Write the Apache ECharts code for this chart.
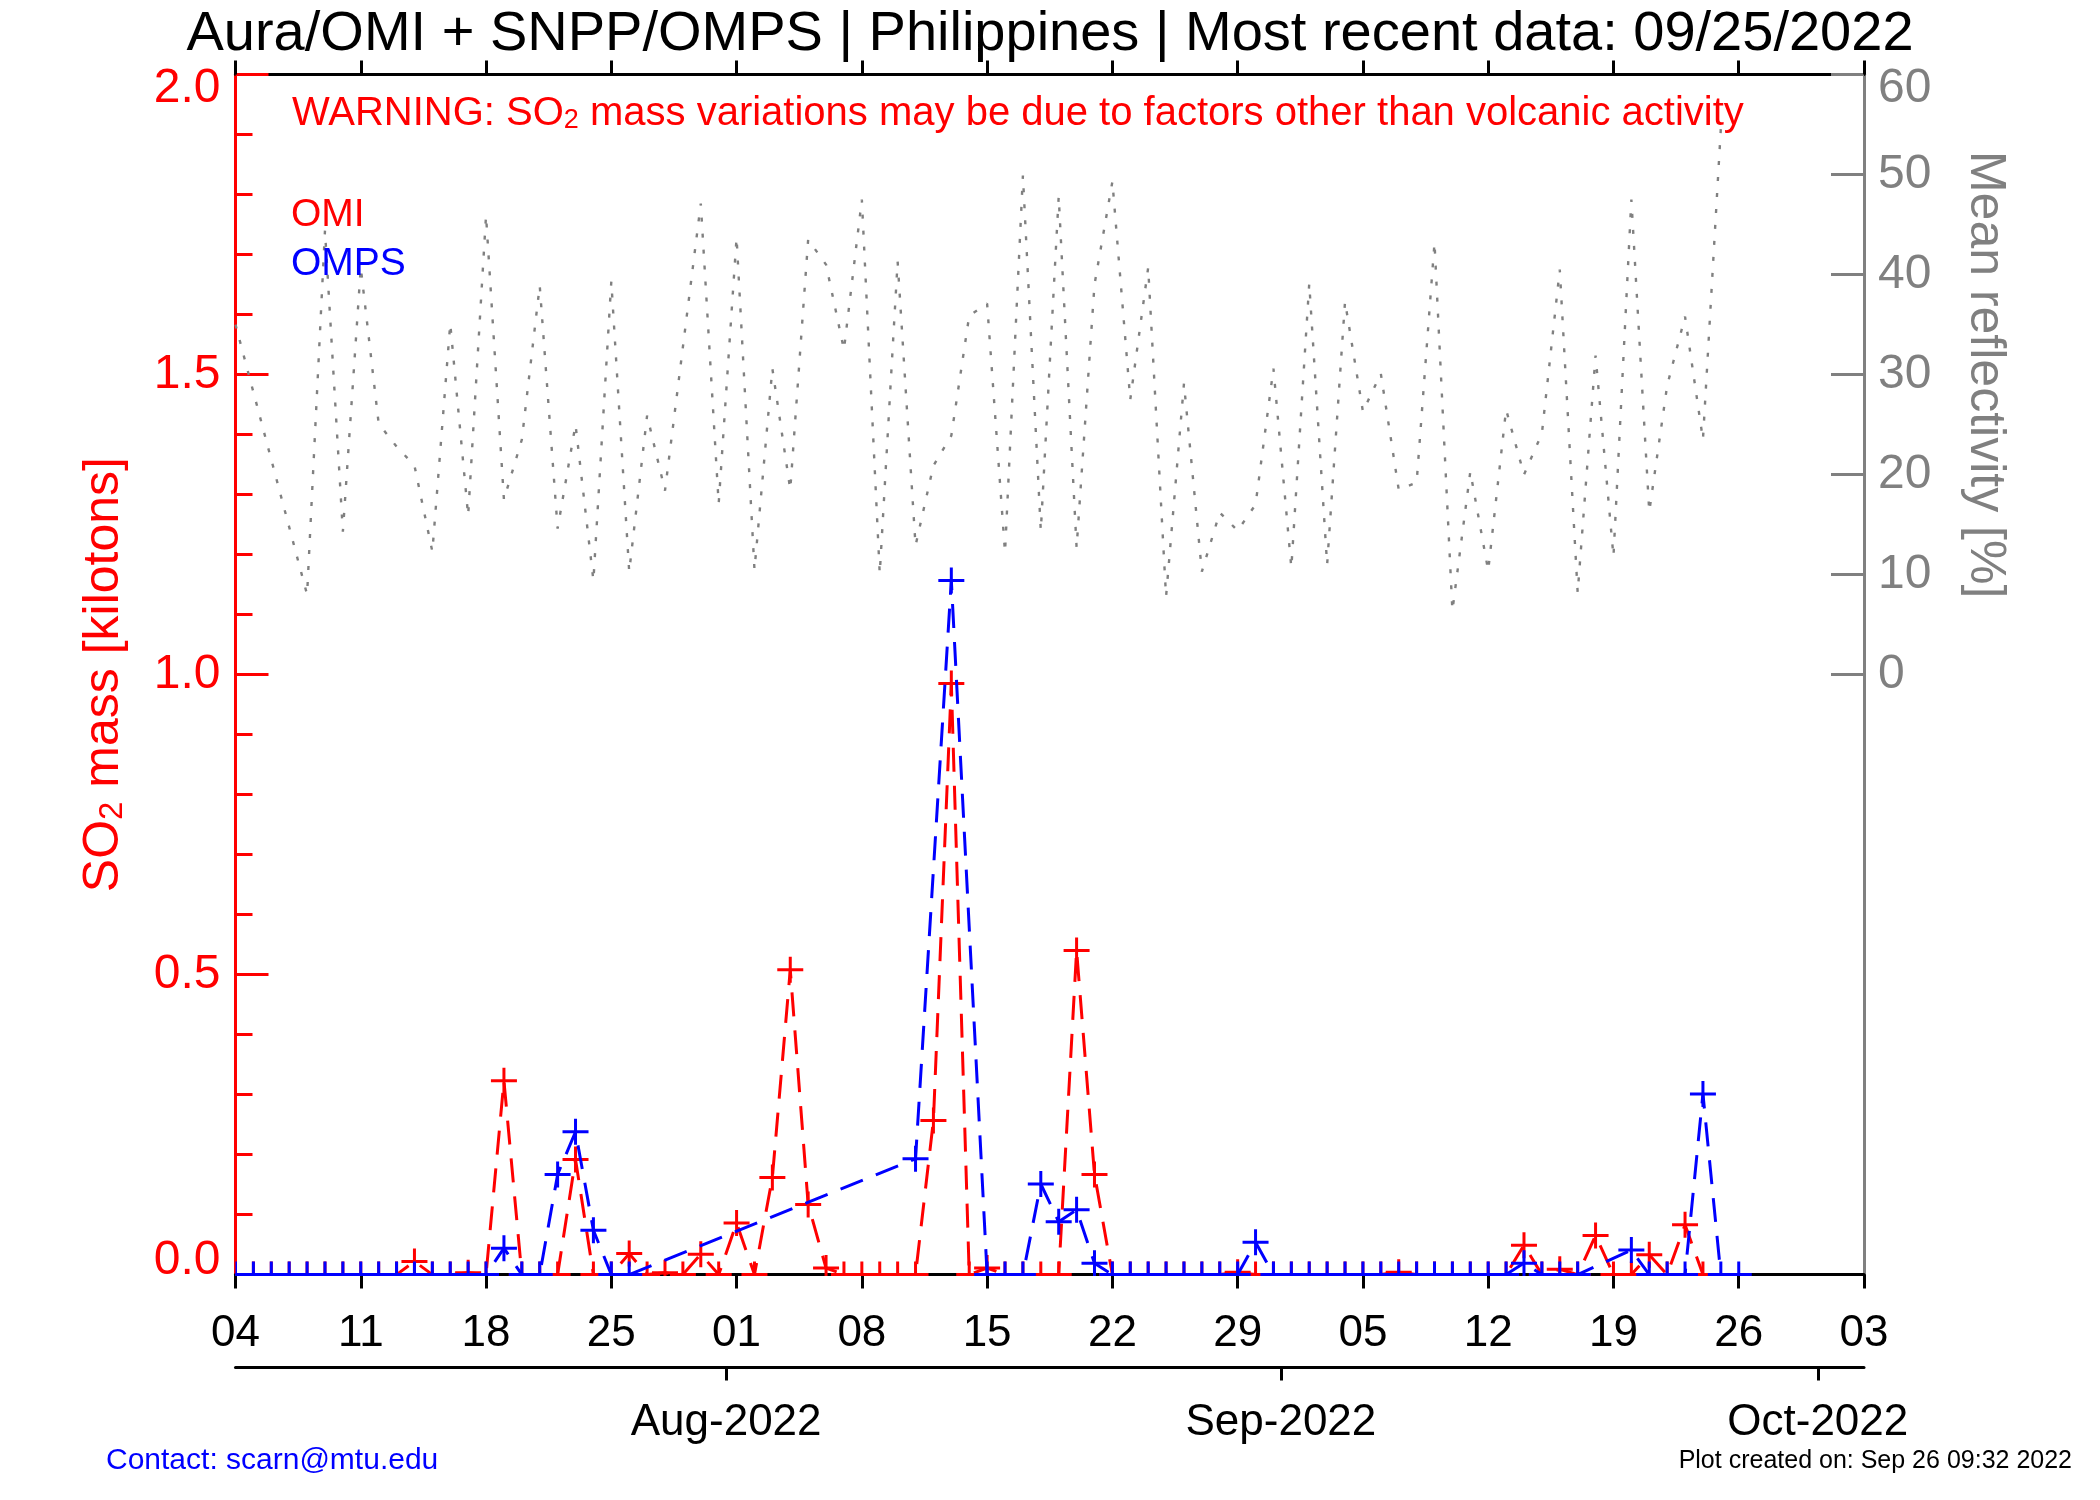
<!DOCTYPE html>
<html>
<head>
<meta charset="utf-8">
<title>Aura/OMI + SNPP/OMPS | Philippines</title>
<script src="https://cdn.jsdelivr.net/npm/echarts@6/dist/echarts.min.js"></script>
<style>
  html, body { margin: 0; padding: 0; background: #ffffff; }
  #chart { width: 2100px; height: 1500px; }
</style>
</head>
<body>
<div id="chart"></div>
<script>
// One entry per day, Jul 04 .. Sep 26 2022. null = no retrieval that day (the line just joins across).
const days = [
  '2022-07-04', '2022-07-05', '2022-07-06', '2022-07-07', '2022-07-08', '2022-07-09', '2022-07-10',
  '2022-07-11', '2022-07-12', '2022-07-13', '2022-07-14', '2022-07-15', '2022-07-16', '2022-07-17',
  '2022-07-18', '2022-07-19', '2022-07-20', '2022-07-21', '2022-07-22', '2022-07-23', '2022-07-24',
  '2022-07-25', '2022-07-26', '2022-07-27', '2022-07-28', '2022-07-29', '2022-07-30', '2022-07-31',
  '2022-08-01', '2022-08-02', '2022-08-03', '2022-08-04', '2022-08-05', '2022-08-06', '2022-08-07',
  '2022-08-08', '2022-08-09', '2022-08-10', '2022-08-11', '2022-08-12', '2022-08-13', '2022-08-14',
  '2022-08-15', '2022-08-16', '2022-08-17', '2022-08-18', '2022-08-19', '2022-08-20', '2022-08-21',
  '2022-08-22', '2022-08-23', '2022-08-24', '2022-08-25', '2022-08-26', '2022-08-27', '2022-08-28',
  '2022-08-29', '2022-08-30', '2022-08-31', '2022-09-01', '2022-09-02', '2022-09-03', '2022-09-04',
  '2022-09-05', '2022-09-06', '2022-09-07', '2022-09-08', '2022-09-09', '2022-09-10', '2022-09-11',
  '2022-09-12', '2022-09-13', '2022-09-14', '2022-09-15', '2022-09-16', '2022-09-17', '2022-09-18',
  '2022-09-19', '2022-09-20', '2022-09-21', '2022-09-22', '2022-09-23', '2022-09-24', '2022-09-25',
  '2022-09-26',
];

// SO2 mass, kilotons
const omi = [
  0, 0, 0, 0, 0, 0, 0,
  0, 0, 0, 0.022, 0, 0, 0.003,
  0, 0.323, 0, 0, 0, 0.192, 0,
  0, 0.035, 0, 0.003, 0, 0.034, 0,
  0.086, 0, 0.162, 0.508, 0.117, 0.011, 0,
  0, 0, 0, 0, 0.257, 0.985, 0,
  0.011, 0, 0, 0, 0, 0.540, 0.167,
  0, 0, 0, 0, 0, 0, 0,
  0.004, 0, 0, 0, 0, 0, 0,
  0, 0, 0.004, 0, 0, 0, 0,
  0, 0, 0.049, 0, 0.009, 0, 0.065,
  0, 0, 0.033, 0, 0.083, 0, null,
  null,
];
const omps = [
  0, 0, 0, 0, 0, 0, 0,
  0, 0, 0, 0, 0, 0, 0,
  0, 0.044, 0, 0, 0.167, 0.238, 0.074,
  0, 0, null, null, null, null, null,
  null, null, null, null, null, null, null,
  null, null, null, 0.193, null, 1.157, null,
  0, 0, 0, 0.151, 0.088, 0.108, 0.019,
  0, 0, 0, 0, 0, 0, 0,
  0, 0.054, 0, 0, 0, 0, 0,
  0, 0, 0, 0, 0, 0, 0,
  0, 0, 0.019, 0, 0, 0, null,
  null, 0.041, 0, 0, 0, 0.301, 0,
  0,
];
// mean cloud reflectivity, %
const reflectivity = [
  35.0, null, null, null, 8.0, 44.4, 14.3,
  40.7, 25.1, 22.8, 20.9, 12.3, 35.1, 15.9,
  45.9, 17.5, 23.5, 38.9, 14.6, 25.0, 9.4,
  39.3, 10.3, 25.9, 18.4, null, 47.1, 17.1,
  43.7, 10.5, 30.6, 18.5, 43.5, 41.0, 32.5,
  47.5, 10.1, 41.3, 12.9, 20.9, 23.9, 35.9,
  37.1, 12.2, 49.9, 14.4, 47.8, 12.7, 39.0,
  49.3, 27.5, 40.7, 7.8, 29.1, 10.3, 16.2,
  14.4, 17.0, 30.6, 10.7, 39.1, 11.0, 37.3,
  26.3, 30.1, 18.5, 19.2, 43.2, 6.4, 20.3,
  10.4, 26.5, 20.0, 24.1, 40.5, 8.2, 31.9,
  11.8, 47.5, 16.3, 28.9, 35.8, 23.5, 54.6,
  null,
];

const weekTicks = [
  '2022-07-04', '2022-07-11', '2022-07-18', '2022-07-25', '2022-08-01', '2022-08-08', '2022-08-15',
  '2022-08-22', '2022-08-29', '2022-09-05', '2022-09-12', '2022-09-19', '2022-09-26', '2022-10-03',
];
const weekLabels = ['04', '11', '18', '25', '01', '08', '15', '22', '29', '05', '12', '19', '26', '03'];
const monthTicks = ['2022-08-01', '2022-09-01', '2022-10-01'];
const monthLabels = ['Aug-2022', 'Sep-2022', 'Oct-2022'];

const AXIS_START = '2022-07-04';
const AXIS_END = '2022-10-03';

const FONT = 'Liberation Sans';
const RED = '#ff0000';
const BLUE = '#0000ff';
const GREY = '#808080';
const HOUR = 3600 * 1000;
// the month ruler of the original sits a little over half a day left of the day ticks
const MONTH_SHIFT = 14 * HOUR;

// x is epoch-ms on plain value axes (the time axis chokes on hand-placed ticks)
const ts = (s) => new Date(s + 'T00:00:00').getTime();
const pairs = (vals) => days.map((d, i) => [ts(d), vals[i]]);
const present = (vals) => pairs(vals).filter((p) => p[1] != null);
const labelFor = (ticks, labels) => (v) => {
  const i = ticks.findIndex((t) => Math.abs(ts(t) - v) < HOUR);
  return i < 0 ? '' : labels[i];
};

// IDL-style "+" symbols; clipped to the plot box so zero readings only show their upper half
function plusMarks(color) {
  return (params, api) => {
    const p = api.coord([api.value(0), api.value(1)]);
    const cs = params.coordSys;
    const h = 13;
    return {
      type: 'group',
      clipPath: { type: 'rect', shape: { x: cs.x, y: cs.y, width: cs.width, height: cs.height + 1.5 } },
      children: [
        { type: 'line', shape: { x1: p[0] - h, y1: p[1], x2: p[0] + h, y2: p[1] }, style: { stroke: color, lineWidth: 3 } },
        { type: 'line', shape: { x1: p[0], y1: p[1] - h, x2: p[0], y2: p[1] + h }, style: { stroke: color, lineWidth: 3 } },
      ],
    };
  };
}

const txt = (size, color, extra) => ({ fontFamily: FONT, fontSize: size, fontWeight: 'normal', color, ...extra });

const weekAxis = (extra) => ({
  type: 'value',
  gridIndex: 0,
  min: ts(AXIS_START),
  max: ts(AXIS_END),
  axisLine: { show: true, onZero: false, lineStyle: { color: '#000', width: 3 } },
  axisTick: { show: true, inside: false, length: 14, customValues: weekTicks.map(ts), lineStyle: { color: '#000', width: 3 } },
  splitLine: { show: false },
  ...extra,
});

const option = {
  animation: false,
  backgroundColor: '#ffffff',
  textStyle: { fontFamily: FONT },
  title: [
    {
      text: 'Aura/OMI + SNPP/OMPS | Philippines | Most recent data: 09/25/2022',
      left: 'center', top: 7, padding: 0,
      textStyle: txt(56, '#000', { lineHeight: 56 }),
    },
    {
      text: '{a|WARNING: SO}{s|2}{a| mass variations may be due to factors other than volcanic activity}',
      left: 292, top: 94, padding: 0,
      textStyle: {
        rich: {
          a: txt(40, RED, { lineHeight: 40 }),
          s: txt(27, RED, { lineHeight: 12, verticalAlign: 'bottom' }),
        },
      },
    },
    { text: 'OMI', left: 291, top: 196, padding: 0, textStyle: txt(39, RED, { lineHeight: 39 }) },
    { text: 'OMPS', left: 291, top: 245, padding: 0, textStyle: txt(39, BLUE, { lineHeight: 39 }) },
    { text: 'Contact: scarn@mtu.edu', left: 106, top: 1446, padding: 0, textStyle: txt(30, BLUE, { lineHeight: 30 }) },
    { text: 'Plot created on: Sep 26 09:32 2022', right: 28, top: 1449, padding: 0, textStyle: txt(25, '#000', { lineHeight: 25 }) },
  ],
  grid: [
    { left: 235.5, right: 236, top: 74.6, height: 1200, outerBoundsMode: 'none' },
    { left: 235.5, right: 236, top: 74.6, height: 600, outerBoundsMode: 'none' },
  ],
  xAxis: [
    weekAxis({
      position: 'bottom',
      axisLabel: {
        show: true, margin: 37, customValues: weekTicks.map(ts),
        formatter: labelFor(weekTicks, weekLabels), ...txt(44, '#000'),
      },
    }),
    weekAxis({ position: 'top', axisLabel: { show: false } }),
    {
      type: 'value',
      gridIndex: 0,
      position: 'bottom',
      offset: 93,
      min: ts(AXIS_START) + MONTH_SHIFT,
      max: ts(AXIS_END) + MONTH_SHIFT,
      axisLine: { show: true, onZero: false, lineStyle: { color: '#000', width: 3 } },
      axisTick: { show: true, inside: false, length: 13, customValues: monthTicks.map(ts), lineStyle: { color: '#000', width: 3 } },
      axisLabel: {
        show: true, margin: 33, customValues: monthTicks.map(ts),
        formatter: labelFor(monthTicks, monthLabels), ...txt(44, '#000'),
      },
      splitLine: { show: false },
    },
    { type: 'value', gridIndex: 1, show: false, min: ts(AXIS_START), max: ts(AXIS_END) },
  ],
  yAxis: [
    {
      type: 'value',
      gridIndex: 0,
      position: 'left',
      min: 0, max: 2, interval: 0.5,
      name: '{a|SO}{s|2}{a| mass [kilotons]}',
      nameLocation: 'middle',
      nameRotate: 90,
      nameGap: 106,
      nameTextStyle: {
        rich: {
          a: txt(50, RED, { lineHeight: 50 }),
          s: txt(33, RED, { lineHeight: 14, verticalAlign: 'bottom' }),
        },
      },
      axisLine: { show: true, onZero: false, lineStyle: { color: RED, width: 3 } },
      axisTick: { show: true, inside: true, length: 33, lineStyle: { color: RED, width: 3 } },
      minorTick: { show: true, splitNumber: 5, length: 17, lineStyle: { color: RED, width: 3 } },
      // end labels are nudged into the axis range, as in the original
      axisLabel: {
        show: true, margin: 15, formatter: (v) => v.toFixed(1),
        verticalAlignMaxLabel: 'top', verticalAlignMinLabel: 'bottom',
        ...txt(48, RED, { lineHeight: 28 }),
      },
      splitLine: { show: false },
    },
    {
      type: 'value',
      gridIndex: 0,
      position: 'right',
      min: 0, max: 2,
      axisLine: { show: true, onZero: false, lineStyle: { color: GREY, width: 3 } },
      axisTick: { show: false },
      axisLabel: { show: false },
      splitLine: { show: false },
    },
    {
      type: 'value',
      gridIndex: 1,
      position: 'right',
      min: 0, max: 60, interval: 10,
      name: 'Mean reflectivity [%]',
      nameLocation: 'middle',
      nameRotate: -90,
      nameGap: 96,
      nameTextStyle: txt(50, GREY, { lineHeight: 50 }),
      axisLine: { show: true, onZero: false, lineStyle: { color: GREY, width: 3 } },
      axisTick: { show: true, inside: true, length: 33, lineStyle: { color: GREY, width: 3 } },
      axisLabel: {
        show: true, margin: 14,
        verticalAlignMaxLabel: 'top',
        ...txt(48, GREY, { lineHeight: 28 }),
      },
      splitLine: { show: false },
    },
  ],
  series: [
    {
      name: 'Mean reflectivity',
      type: 'line',
      xAxisIndex: 3, yAxisIndex: 2,
      data: pairs(reflectivity),
      symbol: 'none', connectNulls: true, silent: true, z: 1,
      lineStyle: { color: GREY, width: 2.4, type: [4, 12] },
    },
    {
      name: 'OMI',
      type: 'line',
      xAxisIndex: 0, yAxisIndex: 0,
      data: pairs(omi),
      symbol: 'none', connectNulls: true, silent: true, z: 2,
      lineStyle: { color: RED, width: 3, type: [24, 14] },
    },
    {
      name: 'OMI marks',
      type: 'custom',
      xAxisIndex: 0, yAxisIndex: 0,
      data: present(omi),
      renderItem: plusMarks(RED),
      silent: true, z: 3,
    },
    {
      name: 'OMPS',
      type: 'line',
      xAxisIndex: 0, yAxisIndex: 0,
      data: pairs(omps),
      symbol: 'none', connectNulls: true, silent: true, z: 4,
      lineStyle: { color: BLUE, width: 3, type: [24, 14] },
    },
    {
      name: 'OMPS marks',
      type: 'custom',
      xAxisIndex: 0, yAxisIndex: 0,
      data: present(omps),
      renderItem: plusMarks(BLUE),
      silent: true, z: 5,
    },
  ],
};

const chart = echarts.init(document.getElementById('chart'), null, { renderer: 'canvas' });
chart.setOption(option);
</script>
</body>
</html>
